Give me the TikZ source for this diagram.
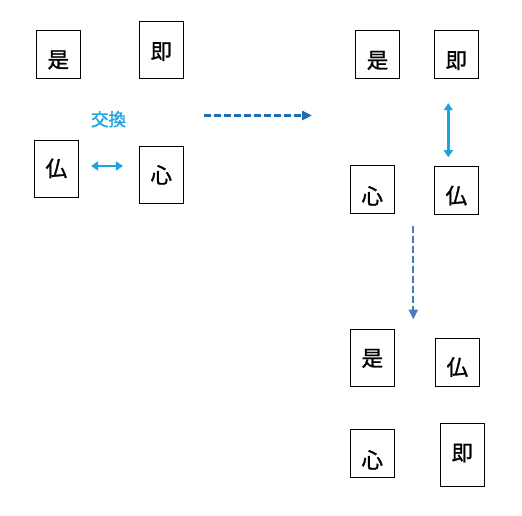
\documentclass[tikz,border=0pt]{standalone}
\usepackage{fontspec}
\newfontfamily\cjk[FakeBold=1.2]{Noto Sans CJK JP}
\usetikzlibrary{arrows.meta}
\definecolor{swapc}{HTML}{1CA3E0}
\definecolor{flowa}{HTML}{1F6EB4}
\definecolor{flowb}{HTML}{4A7EBB}
\tikzset{
  card/.style={draw=black, line width=0.9pt, fill=white, inner sep=0pt, minimum width=44pt},
  glyph/.style={inner sep=0pt, font=\cjk\fontsize{21.5}{24}\selectfont, text height=18.9pt, text depth=2.6pt},
  swaparrow/.style={draw=swapc, line width=2.6pt, {Triangle[length=7pt,width=9pt]}-{Triangle[length=7pt,width=9pt]}},
  flowarrow/.style={line width=2.6pt, dash pattern=on 7pt off 3pt, -{Triangle[length=10pt,width=9pt]}},
  swaplabel/.style={inner sep=0pt, text=swapc, font=\cjk\fontsize{17.5}{20}\selectfont}
}
\begin{document}
\begin{tikzpicture}[x=1pt,y=-1pt]
\useasboundingbox[fill=white] (0,0) rectangle (522,516);
% stage 1
\node[card, minimum height=48pt] (s1) at (58,54) {};
\node[glyph] (s1t) at (58.3,59.5) {是};
\node[card, minimum height=57pt] (j1) at (161.3,49.8) {};
\node[glyph] (j1t) at (161.3,51) {即};
\node[card, minimum height=57pt] (b1) at (56.3,168.8) {};
\node[glyph] (b1t) at (56.3,168.3) {仏};
\node[card, minimum height=57pt] (x1) at (161.3,174.6) {};
\node[glyph] (x1t) at (161.3,175) {心};
\node[swaplabel] (lab) at (108.5,119.3) {交換};
\draw[swaparrow] ([yshift=2.8]b1.east) -- ([yshift=2.8]b1.east -| x1.west)
  [shorten <=12.4pt, shorten >=15.9pt];
% stage 2
\node[card, minimum height=48pt] (s2) at (377.5,54.3) {};
\node[glyph] (s2t) at (377.5,60) {是};
\node[card, minimum height=48pt] (j2) at (456.3,54.3) {};
\node[glyph] (j2t) at (456.3,60) {即};
\node[card, minimum height=48pt] (x2) at (372.3,189.3) {};
\node[glyph] (x2t) at (372.3,196) {心};
\node[card, minimum height=48pt] (b2) at (456.3,190.2) {};
\node[glyph] (b2t) at (456.3,195.5) {仏};
\draw[swaparrow, shorten <=24.5pt, shorten >=8.5pt] ([xshift=-8]j2.south) -- ([xshift=-8]b2.north);
% stage 3
\node[card, minimum height=57pt] (s3) at (372.3,357.7) {};
\node[glyph] (s3t) at (372.3,358) {是};
\node[card, minimum height=48pt] (b3) at (457.3,362.2) {};
\node[glyph] (b3t) at (457.3,367) {仏};
\node[card, minimum height=48pt] (x3) at (372.3,453.3) {};
\node[glyph] (x3t) at (372.3,460) {心};
\node[card, minimum height=63pt] (j3) at (462.3,454.7) {};
\node[glyph] (j3t) at (462.3,452.6) {即};
% flow arrows
\coordinate (fa1) at (204,115.5);
\coordinate (fa2) at (312,115.5);
\draw[flowarrow, draw=flowa, fill=flowa] (fa1) -- (fa2);
\coordinate (fb1) at (413.3,226);
\coordinate (fb2) at (413.3,319.5);
\draw[flowarrow, line width=2.3pt, draw=flowb, fill=flowb] (fb1) -- (fb2);
\end{tikzpicture}
\end{document}
